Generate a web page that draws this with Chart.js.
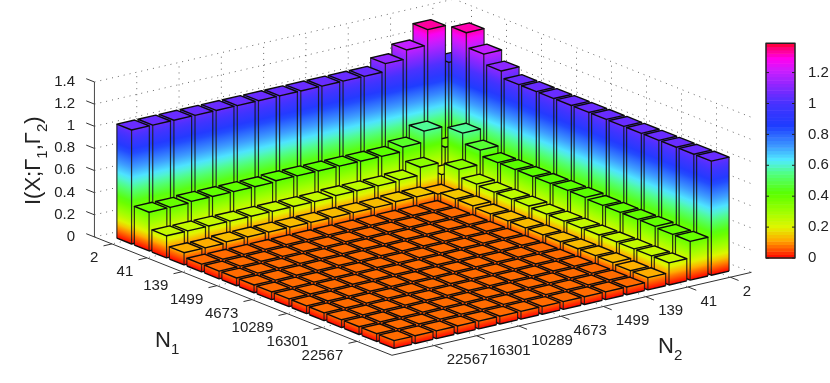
<!DOCTYPE html>
<html>
<head>
<meta charset="utf-8">
<style>
    html, body { margin: 0; padding: 0; background: #fff; }
    #wrap { width: 830px; height: 383px; }
</style>
<script src="https://cdn.jsdelivr.net/npm/chart.js@4"></script>
</head>
<body>
<div id="wrap"><canvas id="chart" width="830" height="383"></canvas></div>
<script>
// ─── Data ──────────────────────────────────────────────────

const tickLabels = ['2', '41', '139', '1499', '4673', '10289', '16301', '22567'];

// one list per N1 bin, each value is one N2 bin
const rowN1_01 = [0.98, 1.32, 1.18, 1.10, 1.03, 1.03, 1.03, 1.03, 1.03, 1.03, 1.03, 1.03, 1.03, 1.03, 1.03, 1.03];
const rowN1_02 = [1.31, 0.32, 0.51, 0.41, 0.37, 0.37, 0.37, 0.37, 0.37, 0.37, 0.36, 0.36, 0.36, 0.36, 0.35, 0.35];
const rowN1_03 = [1.18, 0.51, 0.18, 0.29, 0.22, 0.21, 0.21, 0.21, 0.20, 0.20, 0.20, 0.20, 0.20, 0.20, 0.20, 0.20];
const rowN1_04 = [1.09, 0.42, 0.29, 0.11, 0.13, 0.13, 0.12, 0.12, 0.12, 0.12, 0.12, 0.12, 0.12, 0.12, 0.11, 0.11];
const rowN1_05 = [1.03, 0.37, 0.22, 0.13, 0.07, 0.07, 0.07, 0.07, 0.07, 0.07, 0.07, 0.07, 0.07, 0.07, 0.07, 0.07];
const rowN1_06 = [1.03, 0.37, 0.21, 0.13, 0.07, 0.07, 0.07, 0.07, 0.07, 0.07, 0.07, 0.07, 0.07, 0.07, 0.07, 0.07];
const rowN1_07 = [1.03, 0.37, 0.21, 0.12, 0.07, 0.07, 0.07, 0.07, 0.07, 0.07, 0.07, 0.07, 0.07, 0.07, 0.07, 0.07];
const rowN1_08 = [1.03, 0.37, 0.21, 0.12, 0.07, 0.07, 0.07, 0.07, 0.07, 0.07, 0.07, 0.07, 0.07, 0.07, 0.07, 0.07];
const rowN1_09 = [1.03, 0.37, 0.20, 0.12, 0.07, 0.07, 0.07, 0.07, 0.07, 0.07, 0.07, 0.07, 0.07, 0.07, 0.07, 0.07];
const rowN1_10 = [1.03, 0.37, 0.20, 0.12, 0.07, 0.07, 0.07, 0.07, 0.07, 0.07, 0.07, 0.07, 0.07, 0.07, 0.07, 0.07];
const rowN1_11 = [1.03, 0.36, 0.20, 0.12, 0.07, 0.07, 0.07, 0.07, 0.07, 0.07, 0.07, 0.07, 0.07, 0.07, 0.07, 0.07];
const rowN1_12 = [1.03, 0.36, 0.20, 0.12, 0.07, 0.07, 0.07, 0.07, 0.07, 0.07, 0.07, 0.07, 0.07, 0.07, 0.07, 0.07];
const rowN1_13 = [1.03, 0.36, 0.20, 0.12, 0.07, 0.07, 0.07, 0.07, 0.07, 0.07, 0.07, 0.07, 0.07, 0.07, 0.07, 0.07];
const rowN1_14 = [1.03, 0.36, 0.20, 0.12, 0.07, 0.07, 0.07, 0.07, 0.07, 0.07, 0.07, 0.07, 0.07, 0.07, 0.07, 0.07];
const rowN1_15 = [1.03, 0.35, 0.20, 0.11, 0.07, 0.07, 0.07, 0.07, 0.07, 0.07, 0.07, 0.07, 0.07, 0.07, 0.07, 0.07];
const rowN1_16 = [1.03, 0.35, 0.20, 0.11, 0.07, 0.07, 0.07, 0.07, 0.07, 0.07, 0.07, 0.07, 0.07, 0.07, 0.07, 0.07];

const rows = [
    rowN1_01, rowN1_02, rowN1_03, rowN1_04, rowN1_05, rowN1_06, rowN1_07, rowN1_08,
    rowN1_09, rowN1_10, rowN1_11, rowN1_12, rowN1_13, rowN1_14, rowN1_15, rowN1_16,
];

// colour map: value -> colour, as on the colour bar
const cmapValues = [0, 0.06, 0.117, 0.2, 0.3, 0.42, 0.55, 0.635, 0.73, 0.86, 1.0, 1.1, 1.21, 1.29, 1.36, 1.39];
const cmapColors = [
    [255, 0, 0], [255, 90, 0], [255, 170, 0], [225, 245, 0], [160, 255, 0], [90, 255, 0],
    [80, 255, 130], [80, 235, 255], [60, 150, 255], [30, 60, 255], [70, 50, 255],
    [130, 40, 255], [200, 30, 255], [255, 0, 240], [255, 0, 120], [255, 0, 40],
];

// ─── View settings ─────────────────────────────────────────

const VIEW = {
    x0: 454, xu: 17.5, xv: 21.15,   // screen x of (u, v)
    y0: 154, yu: 6.96, yv: 4.88,    // screen y of (u, v) at z = 0
    zPx: 110.7, zBase: 236.7,       // z axis pixels
    span: 17, halfBar: 0.42,
};
const BAR_SCALE = { zero: 258, px: 154.5, max: 1.39, left: 766, right: 795 };
const FONT = "'Liberation Sans', Arial, sans-serif";
const INK = '#222';
const EDGE = '#0c0c0c';

const px = (u, v) => VIEW.x0 + VIEW.xu * u - VIEW.xv * v;
// floor depth expressed in z units, so the y scale does all the vertical mapping
const zAt = (u, v, z) => z - (VIEW.y0 + VIEW.yu * u + VIEW.yv * v - VIEW.zBase) / VIEW.zPx;

function cmap(val) {
    const last = cmapValues.length - 1;
    if (val <= 0) return cmapColors[0];
    if (val >= cmapValues[last]) return cmapColors[last];
    let i = 0;
    while (cmapValues[i + 1] < val) i++;
    const t = (val - cmapValues[i]) / (cmapValues[i + 1] - cmapValues[i]);
    return cmapColors[i].map((c, k) => Math.round(c + (cmapColors[i + 1][k] - c) * t));
}
const rgb = c => `rgb(${c[0]},${c[1]},${c[2]})`;
const clamp01 = t => Math.max(0, Math.min(1, t));

// height on the picture -> colour value, the mid range runs a little ahead of the axis
const colorVal = z => z * 0.96 + 0.04 * clamp01((z - 0.08) / 0.12) * clamp01((0.8 - z) / 0.3) + 0.07 * clamp01(z / 1.03);

// bars go back to front so the painter's order hides the right things
const barPoints = [];
rows.forEach((row, i) => {
    row.forEach((val, j) => {
        barPoints.push({ x: px(i + 1, j + 1), y: val, u: i + 1, v: j + 1 });
    });
});

// ─── Drawing helpers ───────────────────────────────────────

function poly(ctx, pts) {
    ctx.beginPath();
    pts.forEach((p, i) => (i ? ctx.lineTo(p[0], p[1]) : ctx.moveTo(p[0], p[1])));
    ctx.closePath();
}

function faceGradient(ctx, a, b, topY, z) {
    // iso-colour lines run parallel to the bottom edge a-b
    const dx = b[0] - a[0], dy = b[1] - a[1];
    const len = Math.hypot(dx, dy);
    const nx = -dy / len, ny = dx / len;
    const k = ny * (topY - a[1]);
    const g = ctx.createLinearGradient(a[0], a[1], a[0] + nx * k, a[1] + ny * k);
    const steps = 24;
    for (let s = 0; s <= steps; s++) {
        g.addColorStop(s / steps, rgb(cmap(colorVal(z * s / steps))));
    }
    return g;
}

function drawBar(ctx, xs, ys, bar) {
    const w = VIEW.halfBar;
    const { u, v, y: z } = bar;
    const pt = (a, b, h) => [xs.getPixelForValue(px(a, b)), ys.getPixelForValue(zAt(a, b, h))];

    const left = pt(u - w, v + w, 0), front = pt(u + w, v + w, 0), right = pt(u + w, v - w, 0);
    const topL = pt(u - w, v + w, z), topF = pt(u + w, v + w, z), topR = pt(u + w, v - w, z), topB = pt(u - w, v - w, z);

    ctx.lineJoin = 'round';

    poly(ctx, [left, front, topF, topL]);
    ctx.fillStyle = faceGradient(ctx, left, front, topL[1], z);
    ctx.fill();
    poly(ctx, [front, right, topR, topF]);
    ctx.fillStyle = faceGradient(ctx, front, right, topF[1], z);
    ctx.fill();

    ctx.lineWidth = 1.2;
    ctx.strokeStyle = 'rgba(20,20,20,0.85)';
    [[left, topL], [front, topF], [right, topR]].forEach(e => {
        ctx.beginPath();
        ctx.moveTo(e[0][0], e[0][1]);
        ctx.lineTo(e[1][0], e[1][1]);
        ctx.stroke();
    });
    ctx.lineWidth = 1.4;
    ctx.strokeStyle = EDGE;
    ctx.beginPath();
    ctx.moveTo(left[0], left[1]);
    ctx.lineTo(front[0], front[1]);
    ctx.lineTo(right[0], right[1]);
    ctx.stroke();

    poly(ctx, [topL, topF, topR, topB]);
    ctx.fillStyle = rgb(cmap(colorVal(z)));
    ctx.fill();
    ctx.stroke();
}

function drawBackWalls(ctx, xs, ys) {
    const pt = (a, b, h) => [xs.getPixelForValue(px(a, b)), ys.getPixelForValue(zAt(a, b, h))];
    const line = (p, q) => {
        ctx.beginPath();
        ctx.moveTo(p[0], p[1]);
        ctx.lineTo(q[0], q[1]);
        ctx.stroke();
    };
    const S = VIEW.span;

    ctx.save();
    ctx.strokeStyle = '#666';
    ctx.lineWidth = 1;
    ctx.setLineDash([1, 5]);
    [0, 0.2, 0.4, 0.6, 0.8, 1, 1.2, 1.4].forEach(z => {
        line(pt(0, S, z), pt(0, 0, z));
        line(pt(0, 0, z), pt(S, 0, z));
    });
    tickLabels.forEach((_, k) => {
        const t = 2 * k + 1;
        line(pt(0, t, 0), pt(0, t, 1.4));
        line(pt(t, 0, 0), pt(t, 0, 1.4));
        line(pt(0, t, 0), pt(S, t, 0));
        line(pt(t, 0, 0), pt(t, S, 0));
    });
    ctx.restore();

    // solid axis lines
    ctx.strokeStyle = '#4a4a4a';
    ctx.lineWidth = 1;
    line(pt(0, S, 0), pt(0, S, 1.4));
    ctx.strokeStyle = '#333';
    line(pt(0, S, 0), pt(S, S, 0));
    line(pt(S, S, 0), pt(S, 0, 0));

    [0, 0.2, 0.4, 0.6, 0.8, 1, 1.2, 1.4].forEach(z => {
        line(pt(0, S, z), pt(-0.47, S, z));
    });
    tickLabels.forEach((_, k) => {
        const t = 2 * k + 1;
        line(pt(t, S, 0), pt(t, S + 0.4, 0));
        line(pt(S, t, 0), pt(S + 0.47, t, 0));
    });
}

function drawTickText(ctx, xs, ys) {
    const S = VIEW.span;
    ctx.fillStyle = INK;
    ctx.font = `15px ${FONT}`;
    ctx.textBaseline = 'middle';
    tickLabels.forEach((label, k) => {
        const t = 2 * k + 1;
        ctx.textAlign = 'right';
        ctx.fillText(label, xs.getPixelForValue(px(t, S)) - 13.7, ys.getPixelForValue(zAt(t, S, 0)) + 14);
        ctx.textAlign = 'left';
        ctx.fillText(label, xs.getPixelForValue(px(S, t)) + 12.4, ys.getPixelForValue(zAt(S, t, 0)) + 14.6);
    });
}

function subscripted(ctx, parts, x, y) {
    let pos = x;
    parts.forEach(p => {
        ctx.font = `${p.sub ? 15 : 22}px ${FONT}`;
        ctx.fillText(p.t, pos, y + (p.sub ? 7 : 0));
        pos += ctx.measureText(p.t).width;
    });
}

function drawTitles(ctx) {
    ctx.fillStyle = INK;
    ctx.textAlign = 'left';
    ctx.textBaseline = 'alphabetic';
    subscripted(ctx, [{ t: 'N' }, { t: '1', sub: true }], 155, 347);
    subscripted(ctx, [{ t: 'N' }, { t: '2', sub: true }], 658, 353);

    ctx.save();
    ctx.translate(40, 205);
    ctx.rotate(-Math.PI / 2);
    subscripted(ctx, [
        { t: 'I(X;Γ' }, { t: '1', sub: true }, { t: ',Γ' }, { t: '2', sub: true }, { t: ')' },
    ], 0, 0);
    ctx.restore();
}

function drawColorBar(ctx, yBar) {
    const { left, right, max } = BAR_SCALE;
    const bands = 64;
    for (let b = 0; b < bands; b++) {
        const lo = max * b / bands, hi = max * (b + 1) / bands;
        const top = yBar.getPixelForValue(hi), bottom = yBar.getPixelForValue(lo);
        ctx.fillStyle = rgb(cmap((lo + hi) / 2));
        ctx.fillRect(left, top, right - left, bottom - top + 0.5);
    }
    ctx.strokeStyle = '#222';
    ctx.lineWidth = 1.5;
    ctx.strokeRect(left, yBar.getPixelForValue(max), right - left, yBar.getPixelForValue(0) - yBar.getPixelForValue(max));
    ctx.lineWidth = 1;
    yBar.ticks.forEach(t => {
        const y = yBar.getPixelForValue(t.value);
        ctx.beginPath();
        ctx.moveTo(left, y); ctx.lineTo(left + 3, y);
        ctx.moveTo(right, y); ctx.lineTo(right - 3, y);
        ctx.stroke();
    });
}

const bars3d = {
    id: 'bars3d',
    afterDatasetsDraw(chart) {
        const { ctx, scales } = chart;
        const { x: xs, y: ys, yBar } = scales;
        ctx.save();
        drawBackWalls(ctx, xs, ys);
        chart.data.datasets[0].data.forEach(bar => drawBar(ctx, xs, ys, bar));
        drawTickText(ctx, xs, ys);
        drawTitles(ctx);
        drawColorBar(ctx, yBar);
        ctx.restore();
    },
};

// ─── Chart ─────────────────────────────────────────────────

const H = 383;
const onlyBetween = (lo, hi) => axis => {
    axis.ticks = axis.ticks.filter(t => t.value > lo - 1e-6 && t.value < hi + 1e-6);
};
const fixFit = width => s => {
    s.width = width;
    s.paddingTop = s.paddingBottom = s.paddingLeft = s.paddingRight = 0;
};
const fmt = v => String(Number(Number(v).toFixed(1)));

new Chart(document.getElementById('chart'), {
    type: 'scatter',
    data: {
        datasets: [{ data: barPoints, pointRadius: 0, pointHoverRadius: 0, showLine: false }],
    },
    plugins: [bars3d],
    options: {
        responsive: false,
        animation: false,
        events: [],
        layout: { padding: 0 },
        plugins: { legend: { display: false }, tooltip: { enabled: false } },
        scales: {
            x: { type: 'linear', display: false, min: 95, max: BAR_SCALE.right },
            y: {
                type: 'linear',
                position: 'left',
                min: (VIEW.zBase - H) / VIEW.zPx,
                max: VIEW.zBase / VIEW.zPx,
                afterFit: fixFit(95),
                afterBuildTicks: onlyBetween(0, 1.4),
                grid: { display: false },
                border: { display: false },
                ticks: {
                    stepSize: 0.2, autoSkip: false, maxRotation: 0, padding: 12,
                    color: INK, font: { family: FONT, size: 15 }, callback: fmt,
                },
            },
            yBar: {
                type: 'linear',
                position: 'right',
                min: (BAR_SCALE.zero - H) / BAR_SCALE.px,
                max: BAR_SCALE.zero / BAR_SCALE.px,
                afterFit: fixFit(830 - BAR_SCALE.right),
                afterBuildTicks: onlyBetween(0, 1.2),
                grid: { display: false },
                border: { display: false },
                ticks: {
                    stepSize: 0.2, autoSkip: false, maxRotation: 0, padding: 5,
                    color: INK, font: { family: FONT, size: 15 }, callback: fmt,
                },
            },
        },
    },
});
</script>
</body>
</html>
